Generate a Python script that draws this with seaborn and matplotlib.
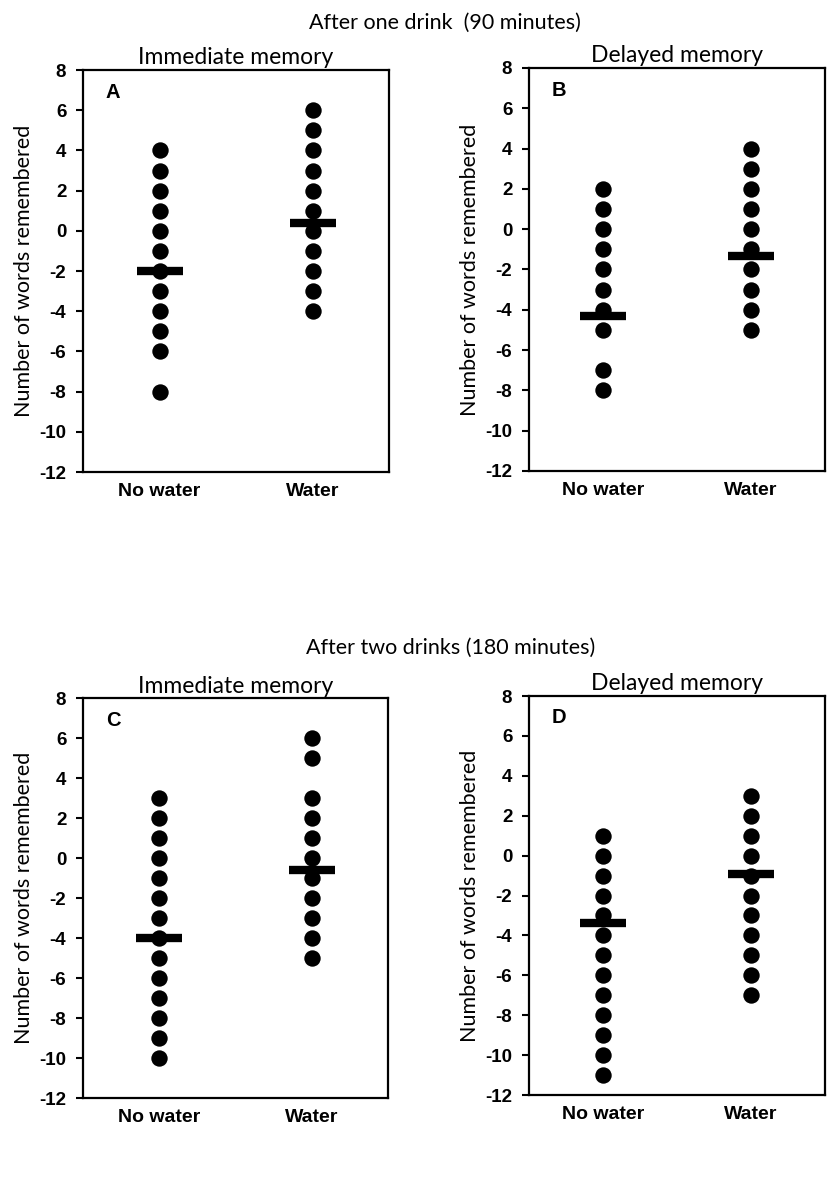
import matplotlib
matplotlib.use("Agg")
import matplotlib.pyplot as plt
import seaborn as sns
import pandas as pd

groups = ["No water", "Water"]

# unique values shown as dots
a_no_water = [4, 3, 2, 1, 0, -1, -2, -3, -4, -5, -6, -8]
a_water = [6, 5, 4, 3, 2, 1, 0, -1, -2, -3, -4]
a_means = [-2.0, 0.4]

b_no_water = [2, 1, 0, -1, -2, -3, -4, -5, -7, -8]
b_water = [4, 3, 2, 1, 0, -1, -2, -3, -4, -5]
b_means = [-4.3, -1.35]

c_no_water = [3, 2, 1, 0, -1, -2, -3, -4, -5, -6, -7, -8, -9, -10]
c_water = [6, 5, 3, 2, 1, 0, -1, -2, -3, -4, -5]
c_means = [-4.0, -0.6]

d_no_water = [1, 0, -1, -2, -3, -4, -5, -6, -7, -8, -9, -10, -11]
d_water = [3, 2, 1, 0, -1, -2, -3, -4, -5, -6, -7]
d_means = [-3.4, -0.9]

y_ticks = list(range(8, -13, -2))

sns.set_style("ticks")
plt.rcParams["font.family"] = ["Liberation Sans", "DejaVu Sans"]
plt.rcParams.update({"text.color": "black", "axes.labelcolor": "black",
                     "xtick.color": "black", "ytick.color": "black"})
title_font = ["Lato", "DejaVu Sans"]


def draw_panel(ax, no_water, water, means, letter, title):
    df = pd.DataFrame({
        "group": [groups[0]] * len(no_water) + [groups[1]] * len(water),
        "value": no_water + water,
    })
    sns.stripplot(data=df, x="group", y="value", order=groups, jitter=False,
                  color="black", size=11.8, linewidth=0, ax=ax, zorder=2)
    mdf = pd.DataFrame({"group": groups, "value": means})
    sns.pointplot(data=mdf, x="group", y="value", order=groups, color="black",
                  markers="_", linestyle="none", errorbar=None,
                  markersize=33, markeredgewidth=6, ax=ax, zorder=3)
    ax.set_xlim(-0.5, 1.5)
    ax.set_ylim(-12, 8)
    ax.set_yticks(y_ticks)
    ax.set_yticklabels([str(t) for t in y_ticks], fontsize=13.5, fontweight="bold")
    ax.set_xticks([0, 1])
    ax.set_xticklabels(groups, fontsize=14, fontweight="bold")
    ax.tick_params(axis="x", length=0, pad=8)
    ax.tick_params(axis="y", length=5, width=1.5, direction="out", pad=7)
    ax.set_xlabel("")
    ax.set_ylabel("Number of words remembered", fontsize=15.5, family=title_font, labelpad=4)
    ax.set_title(title, fontsize=16.5, family=title_font, pad=4)
    for s in ax.spines.values():
        s.set_visible(True)
        s.set_linewidth(1.6)
        s.set_color("black")
    ax.text(0.075, 0.945, letter, transform=ax.transAxes, fontsize=14.5,
            fontweight="bold", va="center", ha="left")


fig = plt.figure(figsize=(8.27, 11.99), dpi=100)
ax_a = fig.add_axes([0.1004, 0.6063, 0.370, 0.3353])
ax_b = fig.add_axes([0.6397, 0.6072, 0.358, 0.3361])
ax_c = fig.add_axes([0.1004, 0.0842, 0.369, 0.3336])
ax_d = fig.add_axes([0.6397, 0.0867, 0.358, 0.3328])

draw_panel(ax_a, a_no_water, a_water, a_means, "A", "Immediate memory")
draw_panel(ax_b, b_no_water, b_water, b_means, "B", "Delayed memory")
draw_panel(ax_c, c_no_water, c_water, c_means, "C", "Immediate memory")
draw_panel(ax_d, d_no_water, d_water, d_means, "D", "Delayed memory")

fig.text(0.538, 0.981, "After one drink  (90 minutes)", fontsize=15.5,
         family=title_font, ha="center", va="center")
fig.text(0.545, 0.4596, "After two drinks (180 minutes)", fontsize=15.5,
         family=title_font, ha="center", va="center")

fig.savefig("out.png", dpi=100)
